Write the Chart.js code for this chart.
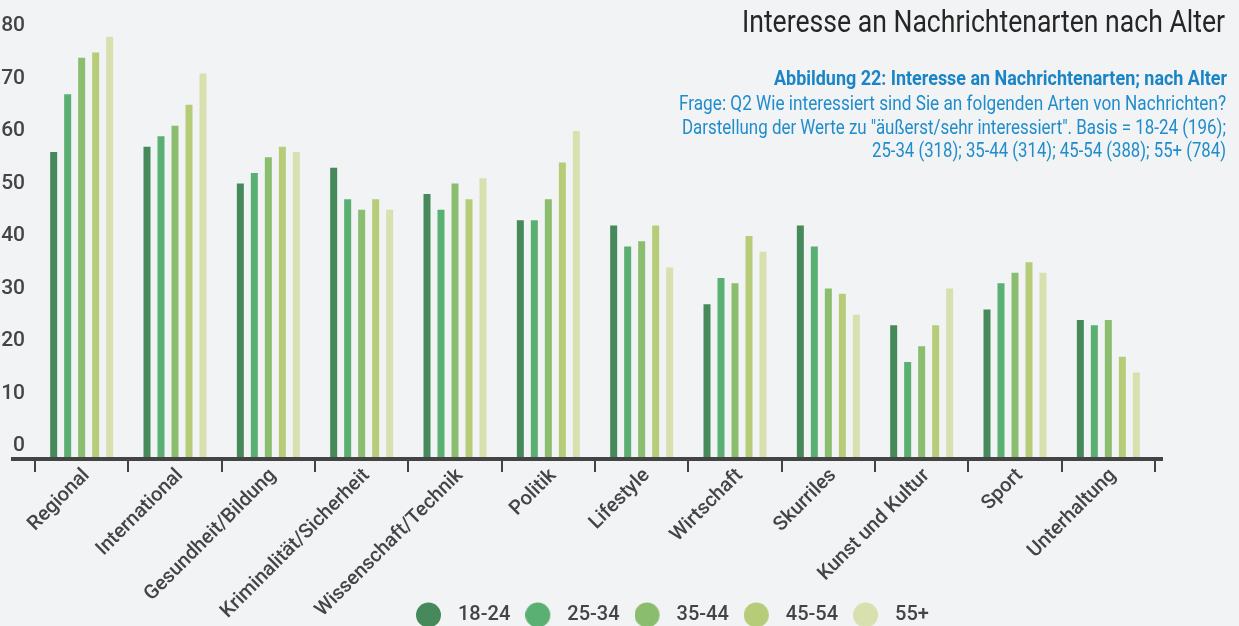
<!DOCTYPE html>
<html>
<head>
<meta charset="utf-8">
<script src="https://cdn.jsdelivr.net/npm/chart.js@4.4.1/dist/chart.umd.min.js"></script>
<style>
  html, body { margin: 0; padding: 0; background: #f2f3f5; overflow: hidden; }
  #wrap { position: relative; width: 1239px; height: 626px; }
  canvas { display: block; }
</style>
</head>
<body>
<div id="wrap"><canvas id="c" width="1239" height="626"></canvas></div>
<script>
// ---------- data ----------
const categories = ['Regional', 'International', 'Gesundheit/Bildung', 'Kriminalität/Sicherheit',
  'Wissenschaft/Technik', 'Politik', 'Lifestyle', 'Wirtschaft', 'Skurriles', 'Kunst und Kultur',
  'Sport', 'Unterhaltung'];
const seriesNames = ['18-24', '25-34', '35-44', '45-54', '55+'];
const age18_24 = [56, 57, 50, 53, 48, 43, 42, 27, 42, 23, 26, 24];
const age25_34 = [67, 59, 52, 47, 45, 43, 38, 32, 38, 16, 31, 23];
const age35_44 = [74, 61, 55, 45, 50, 47, 39, 31, 30, 19, 33, 24];
const age45_54 = [75, 65, 57, 47, 47, 54, 42, 40, 29, 23, 35, 17];
const age55plus = [78, 71, 56, 45, 51, 60, 34, 37, 25, 30, 33, 14];
const yTickValues = [0, 10, 20, 30, 40, 50, 60, 70, 80];
const titleText = 'Interesse an Nachrichtenarten nach Alter';
const subtitleLines = [
  'Abbildung 22: Interesse an Nachrichtenarten; nach Alter',
  'Frage: Q2 Wie interessiert sind Sie an folgenden Arten von Nachrichten?',
  'Darstellung der Werte zu "äußerst/sehr interessiert". Basis = 18-24 (196);',
  '25-34 (318); 35-44 (314); 45-54 (388); 55+ (784)'
];

// ---------- styles ----------
const colors = ['#46895a', '#59b072', '#8abd6d', '#b6cc78', '#d8e0b0'];
const allSeries = [age18_24, age25_34, age35_44, age45_54, age55plus];
const TEXT = '#444444';
const FONT = 'Roboto';

// legend point images (circle with space to its right)
function makeDot(color) {
  const c = document.createElement('canvas');
  c.width = 32; c.height = 26;
  const g = c.getContext('2d');
  g.fillStyle = color;
  g.beginPath();
  g.ellipse(12.5, 13, 12.5, 12.5, 0, 0, Math.PI * 2);
  g.fill();
  return c;
}
const dots = colors.map(makeDot);

// text overlay (title + subtitle) drawn on canvas, horizontally condensed to fit
const textItems = [
  { text: titleText, font: '400 31px ' + FONT, color: '#262626', left: 742, right: 1225, baseline: 32 },
  { text: subtitleLines[0], font: '700 20px ' + FONT, color: '#1a85c6', left: 774, right: 1227, baseline: 85 },
  { text: subtitleLines[1], font: '400 20px ' + FONT, color: '#1f8ccb', left: 679, right: 1226, baseline: 109.5 },
  { text: subtitleLines[2], font: '400 20px ' + FONT, color: '#1f8ccb', left: 682, right: 1226, baseline: 133.5 },
  { text: subtitleLines[3], font: '400 20px ' + FONT, color: '#1f8ccb', left: 872, right: 1226, baseline: 157 }
];

const decorPlugin = {
  id: 'decor',
  afterLayout(chart) {
    const lg = chart.legend;
    if (lg) {
      lg.left = 401; lg.right = 1239; lg.width = 838;
      lg.top = 590; lg.bottom = 626; lg.height = 36;
    }
  },
  afterDraw(chart) {
    const ctx = chart.ctx;
    const ca = chart.chartArea;
    ctx.save();
    // axis baseline
    ctx.fillStyle = '#444444';
    ctx.fillRect(11, ca.bottom, 1163 - 11, 4);
    // texts
    ctx.textBaseline = 'alphabetic';
    ctx.textAlign = 'left';
    for (const t of textItems) {
      ctx.font = t.font;
      ctx.fillStyle = t.color;
      const w = ctx.measureText(t.text).width;
      const sx = (t.right - t.left) / w;
      ctx.save();
      ctx.translate(t.left, t.baseline);
      ctx.scale(sx, 1);
      ctx.fillText(t.text, 0, 0);
      ctx.restore();
    }
    ctx.restore();
  }
};

const datasets = seriesNames.map((name, i) => ({
  label: name,
  data: allSeries[i],
  backgroundColor: colors[i],
  borderWidth: 0,
  base: -2.1,
  barPercentage: 0.5,
  categoryPercentage: 0.75
}));

new Chart(document.getElementById('c'), {
  type: 'bar',
  data: { labels: categories, datasets },
  plugins: [decorPlugin],
  options: {
    responsive: false,
    animation: false,
    layout: { padding: { top: 0, right: 84, left: 0, bottom: 0 } },
    plugins: {
      tooltip: { enabled: false },
      title: { display: false },
      legend: {
        display: true,
        position: 'bottom',
        align: 'start',
        maxHeight: 1,
        labels: {
          usePointStyle: true,
          pointStyleWidth: 32,
          boxHeight: 20,
          padding: 15,
          color: TEXT,
          font: { family: FONT, size: 20, weight: '500' },
          generateLabels(chart) {
            const items = Chart.defaults.plugins.legend.labels.generateLabels(chart);
            items.forEach((it, i) => { it.pointStyle = dots[i]; });
            return items;
          }
        }
      }
    },
    scales: {
      x: {
        type: 'category',
        offset: true,
        grid: {
          offset: true, display: true, drawOnChartArea: false, drawTicks: true,
          tickLength: 15, color: '#444444', lineWidth: 2
        },
        border: { display: false },
        ticks: {
          color: TEXT,
          font: { family: FONT, size: 20, weight: '500' },
          maxRotation: 45, minRotation: 45, autoSkip: false, padding: -8, labelOffset: 5
        },
        afterFit(scale) { scale.height = 168; }
      },
      y: {
        min: -2.1,
        max: 82.2,
        grid: { display: false },
        border: { display: false },
        ticks: {
          color: TEXT,
          font: { family: FONT, size: 21, weight: '500' },
          padding: 2
        },
        afterBuildTicks(scale) { scale.ticks = yTickValues.map(v => ({ value: v })); },
        afterFit(scale) { scale.width = 35; }
      }
    }
  }
});
</script>
</body>
</html>
